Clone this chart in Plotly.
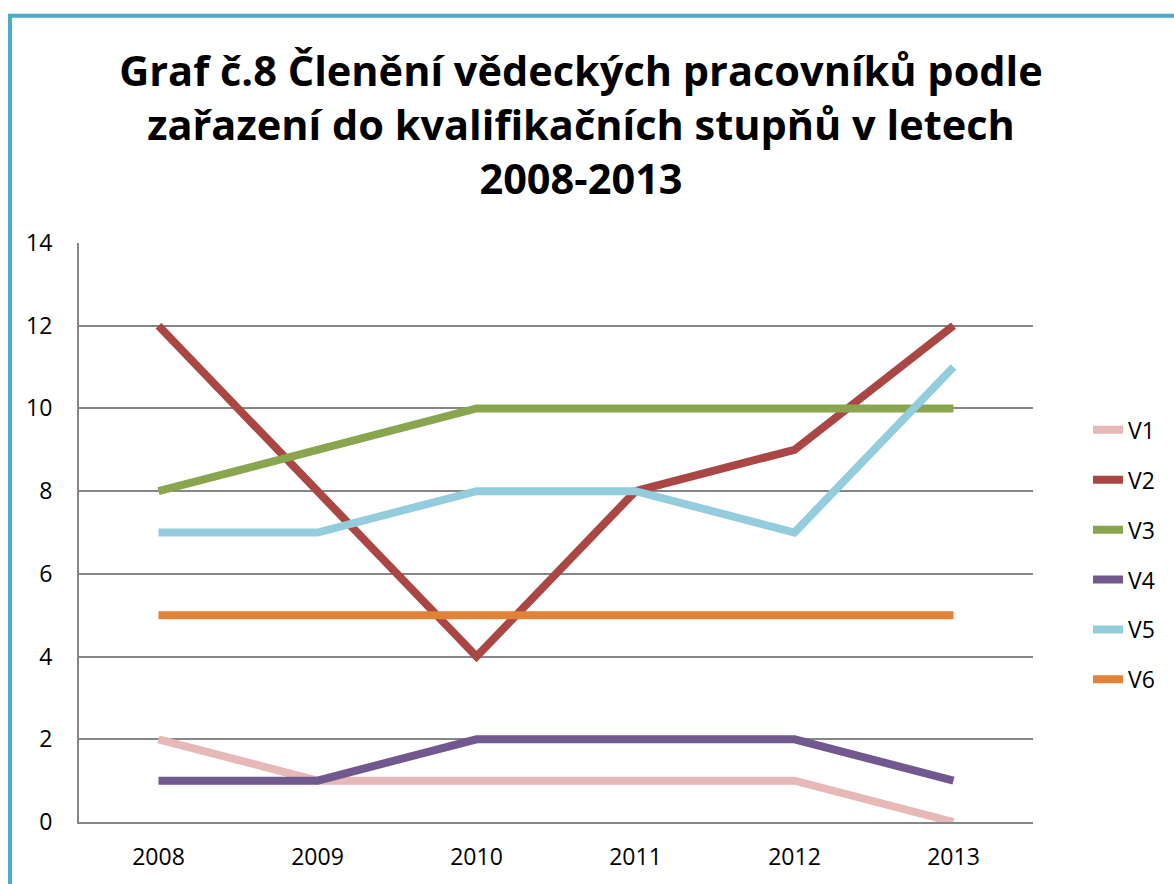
import plotly.graph_objects as go

years = ["2008", "2009", "2010", "2011", "2012", "2013"]
V1 = [2, 1, 1, 1, 1, 0]
V2 = [12, 8, 4, 8, 9, 12]
V3 = [8, 9, 10, 10, 10, 10]
V4 = [1, 1, 2, 2, 2, 1]
V5 = [7, 7, 8, 8, 7, 11]
V6 = [5, 5, 5, 5, 5, 5]
names = ["V1", "V2", "V3", "V4", "V5", "V6"]
colors = ["#E6B9B8", "#AA4643", "#89A54E", "#71588F", "#93CDDD", "#E0823A"]
title = "Graf č.8 Členění vědeckých pracovníků podle<br>zařazení do kvalifikačních stupňů v letech<br>2008-2013"

W, H = 1174, 884
L, R, T, B = 79, 1033, 243, 824

fig = go.Figure()
for name, vals, c in zip(names, [V1, V2, V3, V4, V5, V6], colors):
    fig.add_trace(go.Scatter(x=years, y=vals, name=name, mode="lines",
                             line=dict(color=c, width=8), legendgroup=name))

font = "'Open Sans', sans-serif"
fig.update_layout(
    width=W, height=H,
    margin=dict(l=L, r=W - R, t=T, b=H - B),
    paper_bgcolor="white", plot_bgcolor="white",
    font=dict(family=font, size=22, color="black"),
    title=dict(text=title, x=581 / W, xanchor="center", y=1 - 86 / H, yanchor="middle",
               yref="container", font=dict(family=font, size=41.5, color="black", weight="bold")),
    xaxis=dict(type="category", range=[-0.5, 5.5], showgrid=False, showline=True,
               linecolor="#868686", linewidth=2, ticks="", tickfont=dict(size=23),
               zeroline=False, ticklabelstandoff=13),
    yaxis=dict(range=[0, 14], dtick=2, showgrid=True, gridcolor="#868686", gridwidth=2,
               showline=True, linecolor="#868686", linewidth=2, ticks="", zeroline=False,
               tickfont=dict(size=23), ticklabelstandoff=20),
    legend=dict(x=(1088 - L) / (R - L), xanchor="left", y=(B - 556) / (B - T), yanchor="middle",
                font=dict(size=23), tracegroupgap=17, bgcolor="rgba(0,0,0,0)"),
    showlegend=True,
)

def px(x):
    return (x - L) / (R - L)

def py(y):
    return (B - y) / (B - T)

fig.add_shape(type="rect", xref="paper", yref="paper",
              x0=px(10), x1=px(1200), y0=py(900), y1=py(15),
              line=dict(color="#4BACC6", width=4), fillcolor="rgba(0,0,0,0)", layer="below")

fig.write_html("out.html", config={"displayModeBar": False},
               post_script="document.body.style.margin='0';document.body.style.overflow='hidden';")
